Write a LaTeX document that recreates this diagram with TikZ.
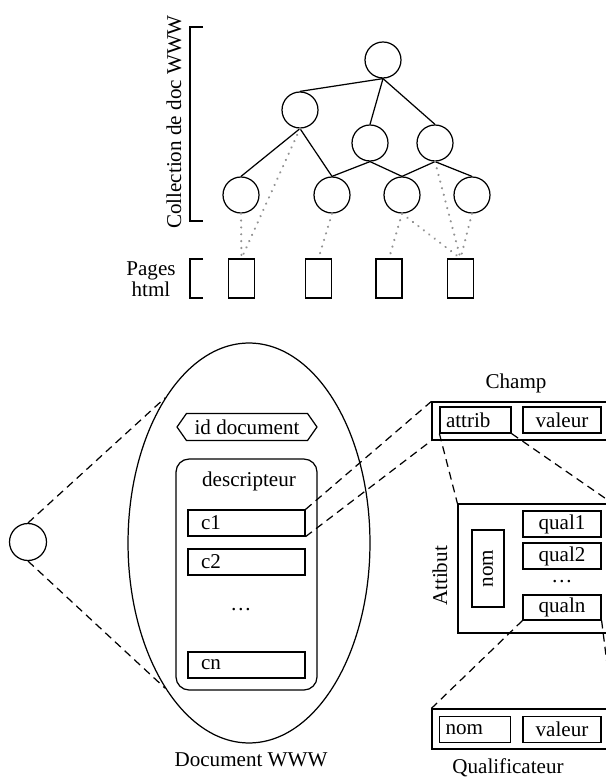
\documentclass[tikz,border=0pt]{standalone}
\usepackage{fontspec}
\setmainfont{Liberation Serif}
\usetikzlibrary{shapes.geometric,shapes.symbols}

\begin{document}
\begin{tikzpicture}[x=0.02cm,y=-0.02cm,line width=0.7pt,
  font=\fontsize{12}{12}\selectfont,
  every node/.style={inner sep=0pt},
  docnode/.style={draw,circle,minimum size=0.72cm},
  htmlpage/.style={draw,minimum width=0.52cm,minimum height=0.78cm},
  pagelink/.style={gray!85,line width=1.3pt,dash pattern=on 0.1pt off 3.8pt,line cap=round},
  zoomline/.style={dash pattern=on 4.5pt off 3pt},
  fieldbox/.style={draw,minimum height=0.52cm,text width=1.82cm,inner xsep=0.26cm,align=left},
  cellbox/.style={draw,minimum width=1.56cm,minimum height=0.52cm},
  framebox/.style={draw,minimum width=3.6cm}]
\useasboundingbox (0,0) rectangle (605,780);

% collection
\node[docnode] (11) at (383,60) {};

\node[docnode] (21) at (300,110) {};
\node[docnode] (22) at (370,143) {};
\node[docnode] (23) at (435,143) {};

\node[docnode] (31) at (241,195) {};
\node[docnode] (32) at (332,195) {};
\node[docnode] (33) at (402,195) {};
\node[docnode] (34) at (472,195) {};

\node[htmlpage] (41) at (241.5,278.5) {};
\node[htmlpage] (42) at (318.5,278.5) {};
\node[htmlpage] (43) at (389,278.5) {};
\node[htmlpage] (44) at (460.5,278.5) {};

\draw (11.south) -- (21.north);
\draw (11.south) -- (22.north);
\draw (11.south) -- (23.north);
\draw (21.south) -- (31.north);
\draw (21.south) -- (32.north);
\draw (22.south) -- (32.north);
\draw (22.south) -- (33.north);
\draw (23.south) -- (33.north);
\draw (23.south) -- (34.north);

\draw[pagelink] (21.south) -- (41.north);
\draw[pagelink] (31.south) -- (41.north);
\draw[pagelink] (32.south) -- (42.north);
\draw[pagelink] (33.south) -- (43.north);
\draw[pagelink] (33.south) -- (44.north);
\draw[pagelink] (23.south) -- (44.north);
\draw[pagelink] (34.south) -- (44.north);

\draw (203,27) -| (190,221) -- (203,221);
\draw (203,259) -| (190,298) -- (203,298);
\node[rotate=90] (coll) at (174,122) {Collection de doc WWW};
\node[align=center] (pages) at (151,279) {Pages\\html};

% document
\node[draw,circle,minimum size=0.74cm] (w) at (28,542) {};
\node[draw,ellipse,minimum width=4.84cm,minimum height=8cm] (doc) at (249,543) {};
\node (doct) at (251,760) {Document WWW};

\node[draw,signal,signal to=east and west,signal pointer angle=110,
  minimum width=2.8cm,minimum height=0.54cm] (id) at (247,427) {id document};
\node[draw,rounded corners=0.26cm,minimum width=2.82cm,minimum height=4.62cm] (desc) at (246.5,574.5) {};
\node (desct) at (249,481) {descripteur};
\node[fieldbox] (c1) at (246.5,523) {c1};
\node[fieldbox] (c2) at (246.5,562) {c2};
\node (cdots) at (241,610) {\dots};
\node[fieldbox] (cn) at (246.5,665) {cn};

\draw[zoomline] (w.north) -- (doc.120.7);
\draw[zoomline] (w.south) -- (doc.240.8);

% champ
\node (champt) at (516,383) {Champ};
\node[framebox,minimum height=0.76cm] (champ) at (522,421) {};
\node[fieldbox,text width=1.18cm,inner xsep=0.12cm] (attrib) at (475.5,420) {attrib};
\node[cellbox] (cval) at (562,420) {valeur};

\draw[zoomline] (c1.north east) -- (champ.north west);
\draw[zoomline] (c1.south east) -- (champ.south west);

% attribut
\node[draw,minimum width=3.08cm,minimum height=2.58cm] (attr) at (535,568.5) {};
\node[rotate=90] (attrt) at (440,576) {Attibut};
\node[draw,rotate=90,minimum width=1.54cm,minimum height=0.64cm] (anom) at (488,568.5) {nom};
\node[cellbox] (q1) at (562,524) {qual1};
\node[cellbox] (q2) at (562,556) {qual2};
\node (qdots) at (562,582) {\dots};
\node[cellbox,minimum height=0.5cm] (qn) at (562,607.5) {qualn};

\draw[zoomline] (attrib.south west) -- (attr.north west);
\draw[zoomline] (attrib.south east) -- (attr.north east);

% qualificateur
\node[framebox,minimum height=0.8cm] (qual) at (522,729) {};
\node[fieldbox,text width=1.18cm,inner xsep=0.12cm] (qnom) at (475,729.5) {nom};
\node[cellbox] (qval) at (562,729.5) {valeur};
\node (qualt) at (508,768) {Qualificateur};

\draw[zoomline] (qn.south west) -- (qual.north west);
\draw[zoomline] (qn.south east) -- (qual.north east);
\end{tikzpicture}
\end{document}
